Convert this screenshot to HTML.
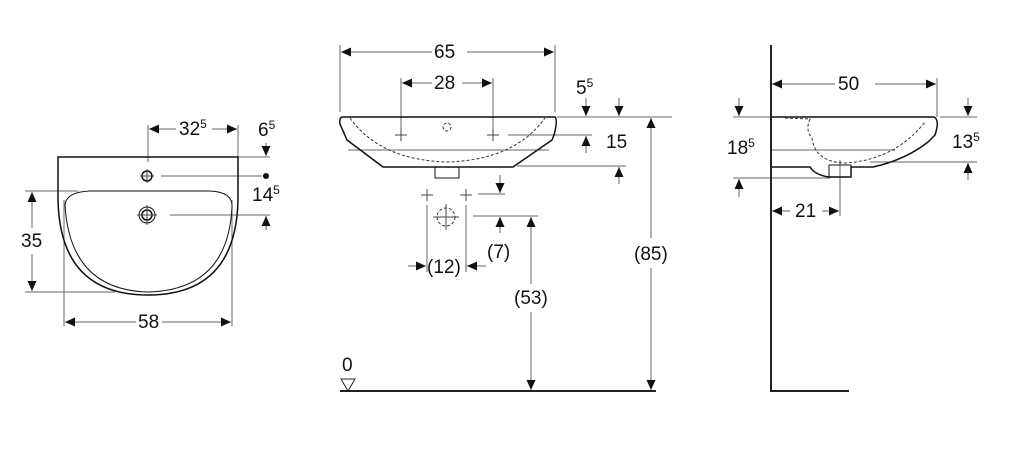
<!DOCTYPE html><html><head><meta charset="utf-8"><style>html,body{margin:0;padding:0;background:#fff}svg{display:block}text{font-family:"Liberation Sans",sans-serif;font-size:19px;fill:#111}</style></head><body>
<svg width="1024" height="453" viewBox="0 0 1024 453" xmlns="http://www.w3.org/2000/svg">
<defs><marker id="a" viewBox="0 0 10 10" refX="10" refY="5" markerUnits="userSpaceOnUse" markerWidth="11" markerHeight="10" orient="auto-start-reverse"><path d="M0,0.5 L10,5 L0,9.5z" fill="#111"/></marker></defs>
<g stroke="#666" stroke-width="1" fill="none">
<line x1="148" y1="125" x2="148" y2="162"/><line x1="238" y1="125" x2="238" y2="157"/>
<line x1="149" y1="129" x2="176" y2="129" marker-start="url(#a)"/><line x1="212" y1="129" x2="237" y2="129" marker-end="url(#a)"/>
<line x1="238" y1="157" x2="270" y2="157"/><line x1="266" y1="143" x2="266" y2="156" marker-end="url(#a)"/>
<line x1="161" y1="176" x2="262" y2="176"/><line x1="170" y1="215" x2="270" y2="215"/>
<line x1="266" y1="230" x2="266" y2="216" marker-end="url(#a)"/>
<line x1="25" y1="191" x2="78" y2="191"/><line x1="25" y1="292" x2="115" y2="292"/>
<line x1="32" y1="228" x2="32" y2="192" marker-end="url(#a)"/><line x1="32" y1="254" x2="32" y2="291" marker-end="url(#a)"/>
<line x1="64" y1="200" x2="64" y2="326"/><line x1="232" y1="200" x2="232" y2="326"/>
<line x1="65" y1="322" x2="136" y2="322" marker-start="url(#a)"/><line x1="162" y1="322" x2="231" y2="322" marker-end="url(#a)"/>
<line x1="340" y1="45" x2="340" y2="112"/><line x1="555" y1="45" x2="555" y2="112"/>
<line x1="341" y1="52" x2="432" y2="52" marker-start="url(#a)"/><line x1="467" y1="52" x2="554" y2="52" marker-end="url(#a)"/>
<line x1="401" y1="78" x2="401" y2="130"/><line x1="493" y1="78" x2="493" y2="130"/>
<line x1="402" y1="83" x2="432" y2="83" marker-start="url(#a)"/><line x1="462" y1="83" x2="492" y2="83" marker-end="url(#a)"/>
<line x1="557" y1="117" x2="672" y2="117"/>
<line x1="586" y1="98" x2="586" y2="116" marker-end="url(#a)"/><line x1="619" y1="98" x2="619" y2="116" marker-end="url(#a)"/>
<line x1="508" y1="135" x2="592" y2="135"/><line x1="586" y1="153" x2="586" y2="136" marker-end="url(#a)"/>
<line x1="517" y1="166" x2="626" y2="166"/><line x1="619" y1="184" x2="619" y2="167" marker-end="url(#a)"/>
<line x1="478" y1="194" x2="505" y2="194"/><line x1="500" y1="175" x2="500" y2="193" marker-end="url(#a)"/>
<line x1="473" y1="216" x2="538" y2="216"/><line x1="500" y1="233" x2="500" y2="217" marker-end="url(#a)"/>
<line x1="427" y1="205" x2="427" y2="272"/><line x1="466" y1="205" x2="466" y2="272"/>
<line x1="408" y1="266" x2="426" y2="266" marker-end="url(#a)"/><line x1="486" y1="266" x2="467" y2="266" marker-end="url(#a)"/>
<line x1="531" y1="284" x2="531" y2="217" marker-end="url(#a)"/><line x1="531" y1="312" x2="531" y2="390" marker-end="url(#a)"/>
<line x1="651" y1="238" x2="651" y2="118" marker-end="url(#a)"/><line x1="651" y1="268" x2="651" y2="390" marker-end="url(#a)"/>
<line x1="772" y1="84" x2="835" y2="84" marker-start="url(#a)"/><line x1="875" y1="84" x2="936" y2="84" marker-end="url(#a)"/>
<line x1="937" y1="78" x2="937" y2="117"/>
<line x1="733" y1="117" x2="771" y2="117"/><line x1="733" y1="178" x2="830" y2="178"/>
<line x1="739" y1="98" x2="739" y2="116" marker-end="url(#a)"/><line x1="739" y1="197" x2="739" y2="179" marker-end="url(#a)"/>
<line x1="940" y1="117" x2="977" y2="117"/><line x1="870" y1="162" x2="977" y2="162"/>
<line x1="968" y1="98" x2="968" y2="116" marker-end="url(#a)"/><line x1="968" y1="180" x2="968" y2="163" marker-end="url(#a)"/>
<line x1="840" y1="160" x2="840" y2="216"/>
<line x1="772" y1="211" x2="790" y2="211" marker-start="url(#a)"/><line x1="822" y1="211" x2="839" y2="211" marker-end="url(#a)"/>
<line x1="771" y1="150" x2="895" y2="150"/>
<line x1="348" y1="150" x2="549" y2="150"/>
</g>
<g stroke="#111" stroke-width="1.5" fill="none">
<path d="M58,157 L238,157 L238,200 Q236,295 148,295 Q60,295 58,200 Z"/>
<path d="M65,205 Q66,192 90,191 L210,191 Q233,192 232,207 Q228,290 148,292 Q70,290 65,205Z" stroke-width="1"/>
<circle cx="147" cy="176" r="5"/><circle cx="147" cy="215" r="8" stroke-width="1"/><circle cx="147" cy="215" r="5"/>
<path d="M343,117 L555,117 Q558,120 554,135 L552,140 L513,167 L383,167 L347,140 L340,124 Q339,117 343,117Z"/>
<rect x="435" y="167" width="24" height="11" stroke-width="1"/>
<path d="M771,117 L934,117 Q940,120 935,135 L928,142 Q905,160 873,167 L851,167 L851,177 L829,177 Q815,175 810,167 L771,167"/>
<rect x="829" y="165" width="22" height="12" stroke-width="1"/>
</g>
<g stroke="#333" stroke-width="1" fill="none" stroke-dasharray="3,2">
<path d="M350,118 Q380,160 447,162 Q515,160 545,118"/>
<circle cx="447" cy="127" r="4"/><circle cx="446" cy="217" r="9"/>
<path d="M785,118 L810,119 Q805,130 812,138 Q815,162 845,163 Q895,160 925,122"/>
</g>
<g stroke="#444" stroke-width="1">
<path d="M395,135h12M401,129v12M487,135h12M493,129v12M421,195h12M427,189v12M460,195h12M466,189v12M433,217h26M446,204v26M140,176h14M147,169v14M137,215h20M147,205v20"/>
</g>
<circle cx="266" cy="176" r="3" fill="#111"/>
<line x1="771" y1="45" x2="771" y2="392" stroke="#222" stroke-width="2"/>
<line x1="771" y1="391" x2="849" y2="391" stroke="#222" stroke-width="2"/>
<line x1="340" y1="391" x2="656" y2="391" stroke="#222" stroke-width="2"/>
<path d="M341,379 L355,379 L348,391Z" fill="none" stroke="#222"/>
<text x="179" y="135">32<tspan font-size="12" dy="-7">5</tspan></text>
<text x="258" y="136">6<tspan font-size="12" dy="-7">5</tspan></text>
<text x="252" y="201">14<tspan font-size="12" dy="-7">5</tspan></text>
<text x="21" y="247">35</text>
<text x="138" y="328">58</text>
<text x="434" y="58">65</text>
<text x="434" y="89">28</text>
<text x="576" y="94">5<tspan font-size="12" dy="-7">5</tspan></text>
<text x="606" y="148">15</text>
<text x="487" y="258">(7)</text>
<text x="427" y="273">(12)</text>
<text x="514" y="304">(53)</text>
<text x="634" y="260">(85)</text>
<text x="342" y="371">0</text>
<text x="838" y="90">50</text>
<text x="727" y="154">18<tspan font-size="12" dy="-7">5</tspan></text>
<text x="952" y="148">13<tspan font-size="12" dy="-7">5</tspan></text>
<text x="795" y="217">21</text>
</svg></body></html>
